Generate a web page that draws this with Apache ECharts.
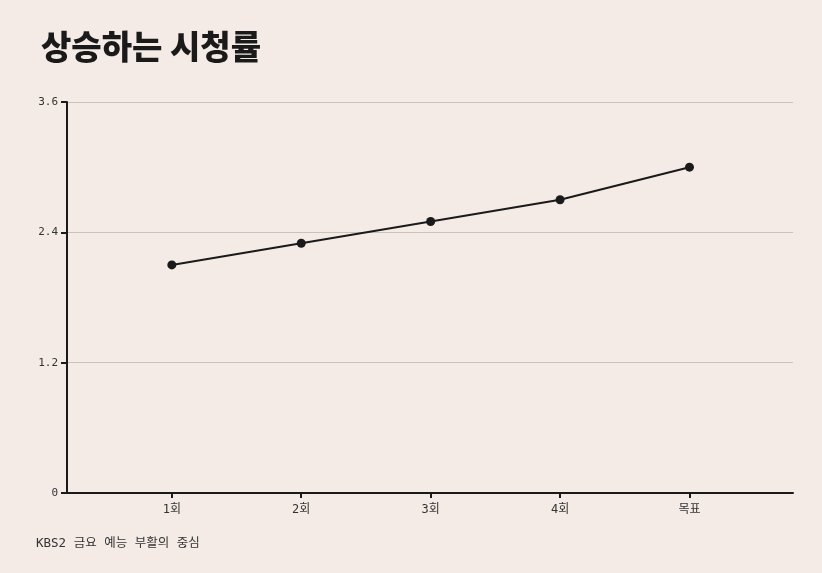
<!DOCTYPE html>
<html>
<head>
<meta charset="utf-8">
<script src="https://cdn.jsdelivr.net/npm/echarts@6/dist/echarts.min.js"></script>
<style>
html,body{margin:0;padding:0;background:#f5ebe6;}
#chart{width:822px;height:573px;}
</style>
</head>
<body>
<div id="chart"></div>
<script>
var categories = ['1회', '2회', '3회', '4회', '목표'];
var ratings = [2.1, 2.3, 2.5, 2.7, 3.0];
var yTicks = [0, 1.2, 2.4, 3.6];

var monoFont = '"DejaVu Sans Mono", "Noto Sans CJK KR", monospace';
var chart = echarts.init(document.getElementById('chart'));

// 위치 인덱스로 점을 찍고 라벨은 카테고리 이름으로
var points = [];
for (var i = 0; i < ratings.length; i++) {
    points.push([i, ratings[i]]);
}
var idx = categories.map(function(c, i){ return i; });

var option = {
    backgroundColor: '#f5ebe6',
    animation: false,
    title: {
        text: '상승하는 시청률',
        left: 36,
        top: 25,
        textStyle: {
            fontFamily: '"Noto Sans CJK KR", sans-serif',
            fontSize: 33,
            fontWeight: 900,
            color: '#1a1a1a'
        }
    },
    graphic: [{
        type: 'text',
        left: 36,
        top: 537,
        style: {
            text: 'KBS2 금요 예능 부활의 중심',
            font: '12.5px ' + monoFont,
            fill: '#333'
        }
    }],
    grid: {
        left: 67,
        right: 29,
        top: 102,
        bottom: 80
    },
    xAxis: {
        type: 'value',
        min: -0.81,
        max: 4.8,
        splitLine: {show: false},
        axisLine: {show: true, lineStyle: {color: '#1a1a1a', width: 2}},
        axisTick: {show: true, customValues: idx, length: 5, lineStyle: {color: '#1a1a1a', width: 2}},
        axisLabel: {
            customValues: idx,
            margin: 11,
            fontFamily: monoFont,
            fontSize: 12,
            color: '#333',
            formatter: function(v){ return categories[Math.round(v)]; }
        }
    },
    yAxis: {
        type: 'value',
        min: 0,
        max: 3.6,
        interval: 1.2,
        axisLine: {show: true, onZero: false, lineStyle: {color: '#1a1a1a', width: 2}},
        axisTick: {show: true, length: 6, lineStyle: {color: '#1a1a1a', width: 2}},
        splitLine: {show: true, lineStyle: {color: '#cbc2bd', width: 1}},
        axisLabel: {
            margin: 9,
            fontFamily: monoFont,
            fontSize: 11,
            color: '#333',
            formatter: function(v){
                for (var k = 0; k < yTicks.length; k++) {
                    if (Math.abs(yTicks[k] - v) < 1e-6) return String(yTicks[k]);
                }
                return '';
            }
        }
    },
    series: [{
        type: 'line',
        data: points,
        symbol: 'circle',
        symbolSize: 9,
        lineStyle: {color: '#1a1a1a', width: 2},
        itemStyle: {color: '#1a1a1a'}
    }]
};
chart.setOption(option);
</script>
</body>
</html>
